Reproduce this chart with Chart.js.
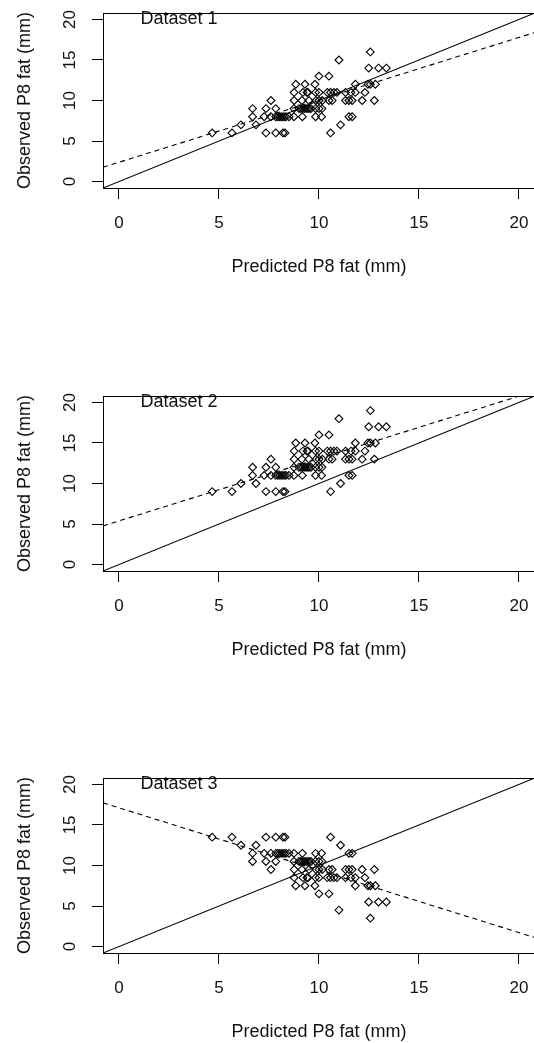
<!DOCTYPE html>
<html>
<head>
<meta charset="utf-8">
<script src="https://cdn.jsdelivr.net/npm/chart.js@4.4.1/dist/chart.umd.min.js"></script>
<style>
html, body { margin:0; padding:0; background:#fff; overflow:hidden; }
#wrap { position:relative; width:534px; height:1043px; overflow:hidden; }
canvas { position:absolute; left:0; }
</style>
</head>
<body>
<div id="wrap">
<canvas id="p1" width="540" height="383" style="top:0px"></canvas>
<canvas id="p2" width="540" height="383" style="top:383px"></canvas>
<canvas id="p3" width="540" height="383" style="top:765px"></canvas>
</div>
<script>
// predicted P8 fat, shared by the three datasets
const predicted = [
  4.66,5.65,7.35,7.84,8.2,8.3,10.58,
  6.1,6.85,11.08,
  6.68,7.26,7.6,7.84,7.95,8.05,8.15,8.25,8.35,8.5,8.75,9.17,9.83,10.13,11.5,11.66,
  6.68,7.35,7.84,8.75,9.0,9.1,9.2,9.3,9.4,9.5,9.6,9.83,10.0,10.15,
  7.6,8.76,9.15,9.5,9.85,10.0,10.17,10.5,10.66,11.33,11.5,11.66,12.16,12.77,
  8.76,9.2,9.4,9.45,9.83,10.0,10.42,10.58,10.75,10.9,11.33,11.6,11.82,12.3,
  8.84,9.3,9.8,11.82,12.45,12.57,12.82,
  10.0,10.5,
  12.49,12.98,13.37,
  11.0,
  12.57
];

const observed1 = [
  6,6,6,6,6,6,6,
  7,7,7,
  8,8,8,8,8,8,8,8,8,8,8,8,8,8,8,8,
  9,9,9,9,9,9,9,9,9,9,9,9,9,9,
  10,10,10,10,10,10,10,10,10,10,10,10,10,10,
  11,11,11,11,11,11,11,11,11,11,11,11,11,11,
  12,12,12,12,12,12,12,
  13,13,
  14,14,14,
  15,
  16
];

const observed2 = [
  9,9,9,9,9,9,9,
  10,10,10,
  11,11,11,11,11,11,11,11,11,11,11,11,11,11,11,11,
  12,12,12,12,12,12,12,12,12,12,12,12,12,12,
  13,13,13,13,13,13,13,13,13,13,13,13,13,13,
  14,14,14,14,14,14,14,14,14,14,14,14,14,14,
  15,15,15,15,15,15,15,
  16,16,
  17,17,17,
  18,
  19
];

const observed3 = [
  13.5,13.5,13.5,13.5,13.5,13.5,13.5,
  12.5,12.5,12.5,
  11.5,11.5,11.5,11.5,11.5,11.5,11.5,11.5,11.5,11.5,11.5,11.5,11.5,11.5,11.5,11.5,
  10.5,10.5,10.5,10.5,10.5,10.5,10.5,10.5,10.5,10.5,10.5,10.5,10.5,10.5,
  9.5,9.5,9.5,9.5,9.5,9.5,9.5,9.5,9.5,9.5,9.5,9.5,9.5,9.5,
  8.5,8.5,8.5,8.5,8.5,8.5,8.5,8.5,8.5,8.5,8.5,8.5,8.5,8.5,
  7.5,7.5,7.5,7.5,7.5,7.5,7.5,
  6.5,6.5,
  5.5,5.5,5.5,
  4.5,
  3.5
];

// [intercept, slope]
const identityLine = [0, 1];
const fit1 = [2.38, 0.77];
const fit2 = [5.38, 0.77];
const fit3 = [17.12, -0.77];

const tickValues = [0, 5, 10, 15, 20];
const axisMin = -0.8, axisMax = 20.8;
const labelAt = [3, 20];

Chart.defaults.font.family = '"Liberation Sans", Arial, sans-serif';
Chart.defaults.color = '#111';

const frame = {
  id: 'frame',
  afterDraw(chart, args, opts) {
    const { ctx, chartArea: a, scales: { x, y } } = chart;
    ctx.save();
    ctx.strokeStyle = '#000';
    ctx.lineWidth = 1;
    ctx.strokeRect(Math.round(a.left) + 0.5, Math.round(a.top) + 0.5, Math.round(a.width), Math.round(a.height));
    ctx.font = '18px "Liberation Sans", Arial, sans-serif';
    ctx.fillStyle = '#111';
    ctx.textAlign = 'center';
    ctx.textBaseline = 'middle';
    ctx.fillText(opts.label, x.getPixelForValue(labelAt[0]), y.getPixelForValue(labelAt[1]));
    ctx.restore();
  }
};

function lineData(p) {
  return [{ x: axisMin, y: p[0] + p[1] * axisMin }, { x: axisMax, y: p[0] + p[1] * axisMax }];
}

function makeChart(id, observed, fit, name) {
  const pts = predicted.map((x, i) => ({ x: x, y: observed[i] }));
  new Chart(document.getElementById(id), {
    type: 'scatter',
    data: {
      datasets: [
        { data: pts, pointStyle: 'rectRot', pointRadius: 3.9, borderWidth: 1.1,
          borderColor: '#000', backgroundColor: 'rgba(0,0,0,0)' },
        { type: 'line', data: lineData(identityLine), borderColor: '#000', borderWidth: 1.1, pointRadius: 0 },
        { type: 'line', data: lineData(fit), borderColor: '#000', borderWidth: 1.1, borderDash: [5, 4], pointRadius: 0 }
      ]
    },
    options: {
      responsive: false,
      animation: false,
      events: [],
      layout: { padding: { top: 13, left: 0, right: 3, bottom: 0 } },
      plugins: { legend: { display: false }, tooltip: { enabled: false }, frame: { label: name } },
      scales: {
        x: {
          type: 'linear', min: axisMin, max: axisMax,
          afterBuildTicks: s => { s.ticks = tickValues.map(v => ({ value: v })); },
          afterFit: s => { s.height = 195; s.paddingLeft = 0; s.paddingRight = 0; },
          grid: { drawOnChartArea: false, tickLength: 11, color: '#000' },
          border: { display: false },
          ticks: { font: { size: 17 }, color: '#111', padding: 14, maxRotation: 0 },
          title: { display: true, text: 'Predicted P8 fat (mm)', font: { size: 18 }, color: '#111',
                   padding: { top: 0, bottom: 105 } }
        },
        y: {
          type: 'linear', min: axisMin, max: axisMax,
          afterBuildTicks: s => { s.ticks = tickValues.map(v => ({ value: v })); },
          afterFit: s => { s.width = 103; s.paddingTop = 0; s.paddingBottom = 0; },
          grid: { drawOnChartArea: false, tickLength: 11, color: '#000' },
          border: { display: false },
          ticks: { font: { size: 17 }, color: '#111', padding: 12, minRotation: 90, maxRotation: 90, crossAlign: 'center' },
          title: { display: true, text: 'Observed P8 fat (mm)', font: { size: 18 }, color: '#111',
                   padding: { top: 14, bottom: 0 } }
        }
      }
    },
    plugins: [frame]
  });
}

makeChart('p1', observed1, fit1, 'Dataset 1');
makeChart('p2', observed2, fit2, 'Dataset 2');
makeChart('p3', observed3, fit3, 'Dataset 3');
</script>
</body>
</html>
